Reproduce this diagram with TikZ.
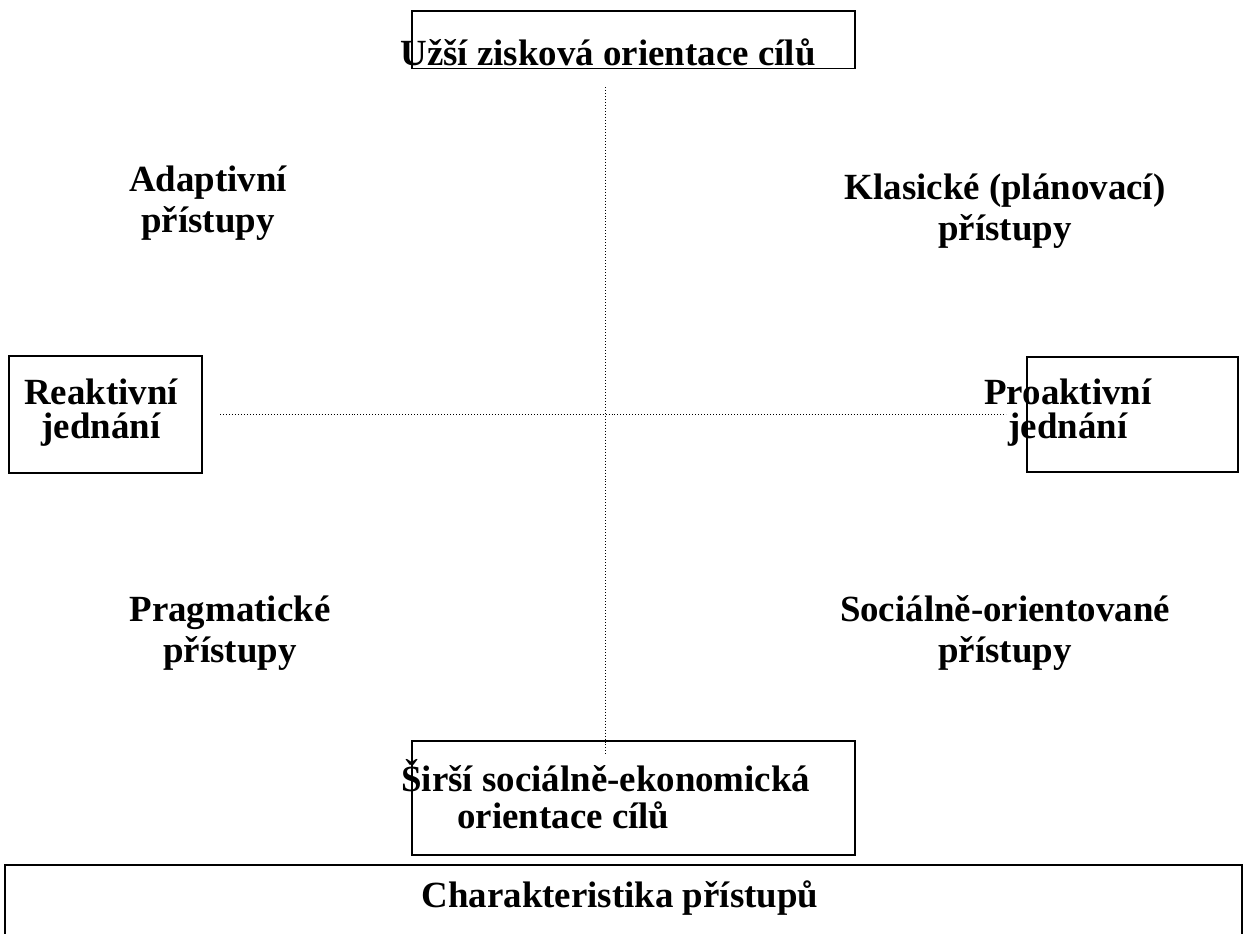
\documentclass[tikz,border=0pt]{standalone}
\usepackage{fontspec}
\setmainfont{Liberation Serif}
\usetikzlibrary{positioning}

\begin{document}
\begin{tikzpicture}[x=0.02cm, y=-0.02cm,
    frame/.style={draw, line width=0.9pt, inner sep=0pt},
    capt/.style={inner sep=0pt, align=center, anchor=base, font={\fontsize{21}{22.8}\selectfont\bfseries}},
    boxcapt/.style={capt, font={\fontsize{21}{19.2}\selectfont\bfseries}},
    axisline/.style={line width=0.567pt, dash pattern=on 0.567pt off 1.134pt}]
    \useasboundingbox (0,0) rectangle (1247,933);

    % frames
    \node[frame, minimum width=8.86cm, minimum height=1.15cm] (topbox) at (633.5,39.75) {};
    \node[frame, minimum width=3.86cm, minimum height=2.34cm] (reakbox) at (105.5,414.5) {};
    \node[frame, minimum width=4.22cm, minimum height=2.30cm] (proakbox) at (1132.5,414.5) {};
    \node[frame, minimum width=8.86cm, minimum height=2.28cm] (sirbox) at (633.5,798) {};
    \draw[line width=1.2pt] (5,940) |- (1242,865) -- (1242,940);

    % axes
    \coordinate (axtop) at (605,87);
    \coordinate (axbot) at (605,756);
    \coordinate (axleft) at (220,414);
    \coordinate (axright) at (1006,414);
    \draw[axisline] (axtop) -- (axbot);
    \draw[axisline] (axleft) -- (axright);

    % texts (base = last line)
    \node[capt] (uzsi) at (608,65) {Užší zisková orientace cílů};
    \node[capt] (adapt) at (208,232) {Adaptivní\\přístupy};
    \node[capt] (klas) at (1005,240) {Klasické (plánovací)\\přístupy};
    \node[boxcapt] (reak) at (101,438) {Reaktivní\\jednání};
    \node[boxcapt] (proak) at (1068,438) {Proaktivní\\jednání};
    \node[capt] (prag) at (230,662) {Pragmatické\\přístupy};
    \node[capt] (soc) at (1005,662) {Sociálně-orientované\\přístupy};
    \node[capt, align=left, anchor=base west, font={\fontsize{21}{20.5}\selectfont\bfseries}] (sirsi) at (401,828) {Širší sociálně-ekonomická\\\hspace*{1.12cm}orientace cílů};
    \node[capt] (charakter) at (620,907) {Charakteristika přístupů};
\end{tikzpicture}
\end{document}
